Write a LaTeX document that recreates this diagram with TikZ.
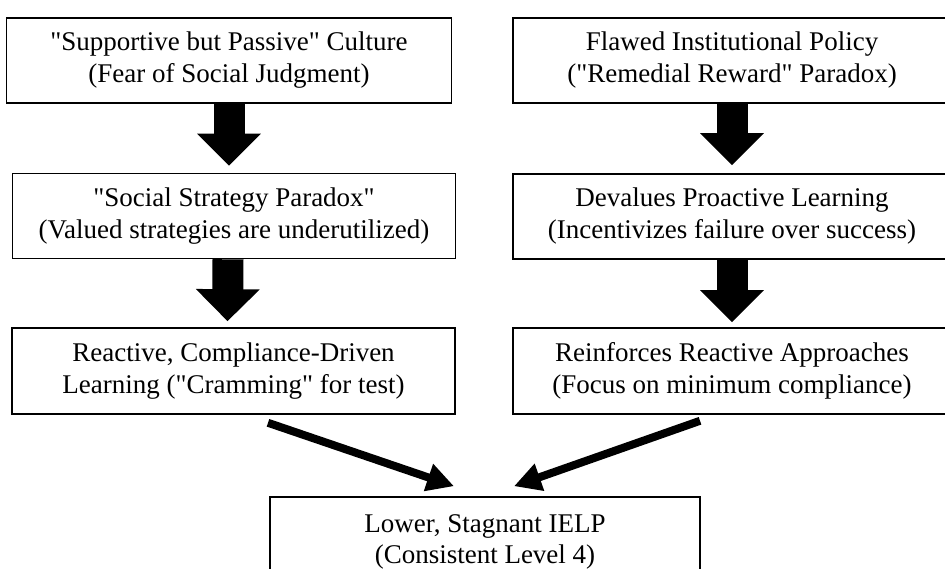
\documentclass[tikz,border=0pt]{standalone}
\usepackage{fontspec}
\setmainfont{Liberation Serif}[Ligatures=TeXOff]
\usetikzlibrary{arrows.meta}
\begin{document}
\begin{tikzpicture}[x=1pt,y=-1pt,
  box/.style={draw=black, line width=1.6pt, fill=white, rectangle, inner sep=0pt,
    align=center, font=\fontsize{27}{32}\selectfont},
  bigarrow/.style={line width=31pt, -{Triangle[width=62pt,length=32pt]}},
  diagarrow/.style={line width=8pt, -{Triangle[width=27pt,length=27pt]}}]
\useasboundingbox (0,0) rectangle (945,569);
\clip (0,0) rectangle (945,569);
% left column
\node[box, minimum width=445pt, minimum height=85pt] (b1) at (229,60.5)
  {"Supportive but Passive" Culture\\(Fear of Social Judgment)};
\node[box, minimum width=443pt, minimum height=85pt] (b3) at (234,216)
  {"Social Strategy Paradox"\\(Valued strategies are underutilized)};
\node[box, minimum width=443pt, minimum height=86pt] (b5) at (233.5,371)
  {Reactive, Compliance-Driven\\Learning ("Cramming" for test)};
% right column
\node[box, minimum width=438pt, minimum height=85pt] (b2) at (732,60.5)
  {Flawed Institutional Policy\\("Remedial Reward" Paradox)};
\node[box, minimum width=438pt, minimum height=85pt] (b4) at (732,216.5)
  {Devalues Proactive Learning\\(Incentivizes failure over success)};
\node[box, minimum width=438pt, minimum height=86pt] (b6) at (732,371)
  {Reinforces Reactive Approaches\\(Focus on minimum compliance)};
% bottom
\node[box, minimum width=430pt, minimum height=90pt, font=\fontsize{27}{30.5}\selectfont] (b7) at (485,542)
  {Lower, Stagnant IELP\\(Consistent Level 4)};
% vertical arrows
\draw[bigarrow] (b1.south) -- ([yshift=7pt]b3.north -| b1.south);
\draw[bigarrow] (b2.south) -- ([yshift=8pt]b4.north);
\draw[bigarrow] ([xshift=-6pt]b3.south) -- ([xshift=-6pt,yshift=6pt]b5.north);
\draw[bigarrow] (b4.south) -- ([yshift=5pt]b6.north);
% diagonal arrows
\draw[diagarrow] ([xshift=34.5pt,yshift=-8pt]b5.south) -- ([xshift=-31pt,yshift=10pt]b7.north);
\draw[diagarrow] ([xshift=-32pt,yshift=-6pt]b6.south) -- ([xshift=29pt,yshift=10pt]b7.north);
\end{tikzpicture}
\end{document}
